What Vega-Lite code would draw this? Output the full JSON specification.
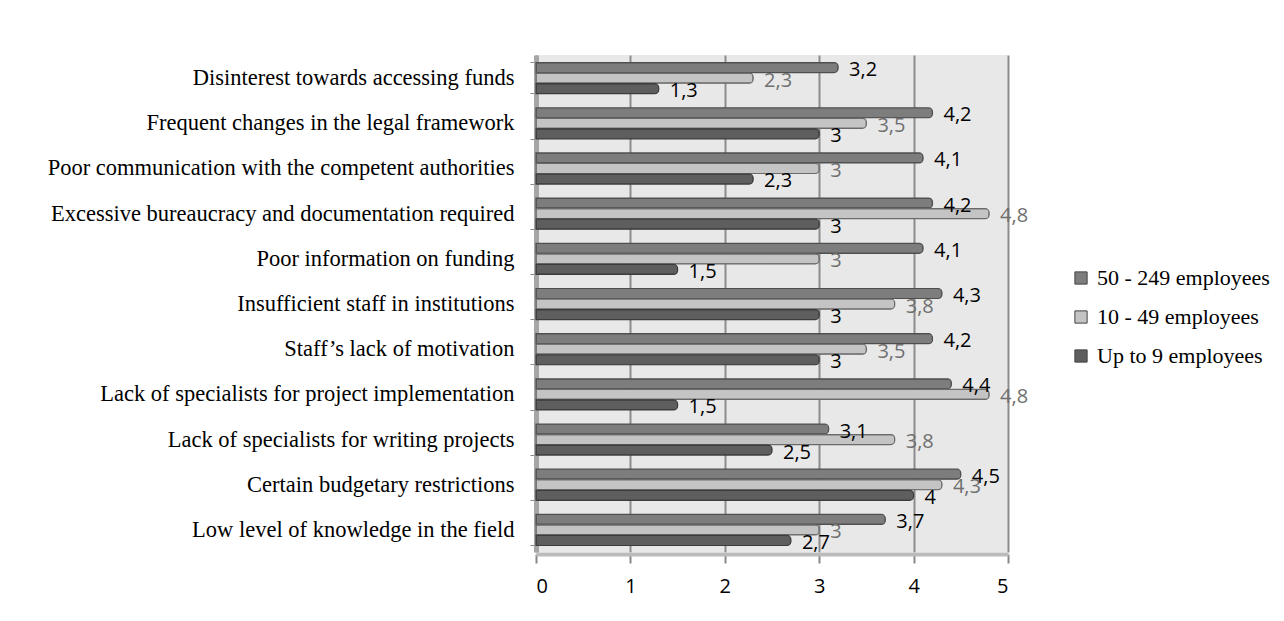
{
  "$schema": "https://vega.github.io/schema/vega-lite/v6.json",
  "autosize": "none",
  "width": 472,
  "height": 497,
  "padding": {"left": 536, "top": 55, "right": 276, "bottom": 69},
  "background": "white",
  "config": {
    "view": {"fill": "#e8e8e8", "stroke": null}
  },
  "data": {
    "values": [
      {"cat": "Disinterest towards accessing funds", "series": "50 - 249 employees", "v": 3.2, "lab": "3,2"},
      {"cat": "Disinterest towards accessing funds", "series": "10 - 49 employees", "v": 2.3, "lab": "2,3"},
      {"cat": "Disinterest towards accessing funds", "series": "Up to 9 employees", "v": 1.3, "lab": "1,3"},
      {"cat": "Frequent changes in the legal framework", "series": "50 - 249 employees", "v": 4.2, "lab": "4,2"},
      {"cat": "Frequent changes in the legal framework", "series": "10 - 49 employees", "v": 3.5, "lab": "3,5"},
      {"cat": "Frequent changes in the legal framework", "series": "Up to 9 employees", "v": 3, "lab": "3"},
      {"cat": "Poor communication with the competent authorities", "series": "50 - 249 employees", "v": 4.1, "lab": "4,1"},
      {"cat": "Poor communication with the competent authorities", "series": "10 - 49 employees", "v": 3, "lab": "3"},
      {"cat": "Poor communication with the competent authorities", "series": "Up to 9 employees", "v": 2.3, "lab": "2,3"},
      {"cat": "Excessive bureaucracy and documentation required", "series": "50 - 249 employees", "v": 4.2, "lab": "4,2"},
      {"cat": "Excessive bureaucracy and documentation required", "series": "10 - 49 employees", "v": 4.8, "lab": "4,8"},
      {"cat": "Excessive bureaucracy and documentation required", "series": "Up to 9 employees", "v": 3, "lab": "3"},
      {"cat": "Poor information on funding", "series": "50 - 249 employees", "v": 4.1, "lab": "4,1"},
      {"cat": "Poor information on funding", "series": "10 - 49 employees", "v": 3, "lab": "3"},
      {"cat": "Poor information on funding", "series": "Up to 9 employees", "v": 1.5, "lab": "1,5"},
      {"cat": "Insufficient staff in institutions", "series": "50 - 249 employees", "v": 4.3, "lab": "4,3"},
      {"cat": "Insufficient staff in institutions", "series": "10 - 49 employees", "v": 3.8, "lab": "3,8"},
      {"cat": "Insufficient staff in institutions", "series": "Up to 9 employees", "v": 3, "lab": "3"},
      {"cat": "Staff’s lack of motivation", "series": "50 - 249 employees", "v": 4.2, "lab": "4,2"},
      {"cat": "Staff’s lack of motivation", "series": "10 - 49 employees", "v": 3.5, "lab": "3,5"},
      {"cat": "Staff’s lack of motivation", "series": "Up to 9 employees", "v": 3, "lab": "3"},
      {"cat": "Lack of specialists for project implementation", "series": "50 - 249 employees", "v": 4.4, "lab": "4,4"},
      {"cat": "Lack of specialists for project implementation", "series": "10 - 49 employees", "v": 4.8, "lab": "4,8"},
      {"cat": "Lack of specialists for project implementation", "series": "Up to 9 employees", "v": 1.5, "lab": "1,5"},
      {"cat": "Lack of specialists for writing projects", "series": "50 - 249 employees", "v": 3.1, "lab": "3,1"},
      {"cat": "Lack of specialists for writing projects", "series": "10 - 49 employees", "v": 3.8, "lab": "3,8"},
      {"cat": "Lack of specialists for writing projects", "series": "Up to 9 employees", "v": 2.5, "lab": "2,5"},
      {"cat": "Certain budgetary restrictions", "series": "50 - 249 employees", "v": 4.5, "lab": "4,5"},
      {"cat": "Certain budgetary restrictions", "series": "10 - 49 employees", "v": 4.3, "lab": "4,3"},
      {"cat": "Certain budgetary restrictions", "series": "Up to 9 employees", "v": 4, "lab": "4"},
      {"cat": "Low level of knowledge in the field", "series": "50 - 249 employees", "v": 3.7, "lab": "3,7"},
      {"cat": "Low level of knowledge in the field", "series": "10 - 49 employees", "v": 3, "lab": "3"},
      {"cat": "Low level of knowledge in the field", "series": "Up to 9 employees", "v": 2.7, "lab": "2,7"}
    ]
  },
  "encoding": {
    "y": {
      "field": "cat", "type": "nominal", "sort": null,
      "scale": {"paddingInner": 0.3, "paddingOuter": 0.15},
      "axis": {
        "title": null, "labelFont": "Liberation Serif", "labelFontSize": 22.5, "labelColor": "#000",
        "labelPadding": 16, "labelBaseline": "middle", "ticks": true, "tickSize": 6, "tickColor": "#888", "tickBand": "extent",
        "domain": true, "domainColor": "#a6a6a6", "domainWidth": 5, "labelLimit": 530
      }
    },
    "yOffset": {
      "field": "series", "type": "nominal",
      "sort": ["50 - 249 employees", "10 - 49 employees", "Up to 9 employees"],
      "scale": {"paddingInner": 0, "paddingOuter": 0}
    },
    "x": {
      "field": "v", "type": "quantitative",
      "scale": {"domain": [0, 5], "nice": false},
      "axis": {
        "title": null, "values": [0, 1, 2, 3, 4, 5], "labelFont": "Open Sans", "labelFontSize": 20,
        "labelColor": "#000", "labelPadding": 13, "tickSize": 9, "tickColor": "#888", "tickWidth": 2,
        "domain": true, "domainColor": "#bbbbbb", "domainWidth": 4, "offset": 2,
        "grid": true, "gridColor": "#8c8c8c", "gridWidth": 2, "format": "d"
      }
    }
  },
  "layer": [
    {
      "mark": {"type": "bar", "cornerRadiusEnd": 4, "strokeWidth": 1.2, "height": {"band": 0.95}},
      "encoding": {
        "color": {
          "field": "series", "type": "nominal",
          "scale": {
            "domain": ["50 - 249 employees", "10 - 49 employees", "Up to 9 employees"],
            "range": ["#7d7d7d", "#c4c4c4", "#5e5e5e"]
          },
          "legend": {
            "title": null, "orient": "none", "legendX": 534, "legendY": 212,
            "symbolType": "square", "symbolSize": 150, "symbolStrokeColor": "#444", "symbolStrokeWidth": 1,
            "labelFont": "Liberation Serif", "labelFontSize": 22, "labelColor": "#000",
            "labelLimit": 300, "rowPadding": 17, "labelOffset": 5
          }
        },
        "stroke": {
          "field": "series", "type": "nominal", "legend": null,
          "scale": {
            "domain": ["50 - 249 employees", "10 - 49 employees", "Up to 9 employees"],
            "range": ["#4f4f4f", "#6a6a6a", "#3c3c3c"]
          }
        }
      }
    },
    {
      "mark": {"type": "text", "align": "left", "baseline": "middle", "dx": 11, "dy": 3, "font": "Open Sans", "fontSize": 20},
      "encoding": {
        "text": {"field": "lab"},
        "color": {
          "field": "series", "type": "nominal", "legend": null,
          "scale": {
            "domain": ["50 - 249 employees", "10 - 49 employees", "Up to 9 employees"],
            "range": ["#000000", "#6f6f6f", "#000000"]
          }
        }
      }
    }
  ],
  "resolve": {"scale": {"color": "independent"}}
}
